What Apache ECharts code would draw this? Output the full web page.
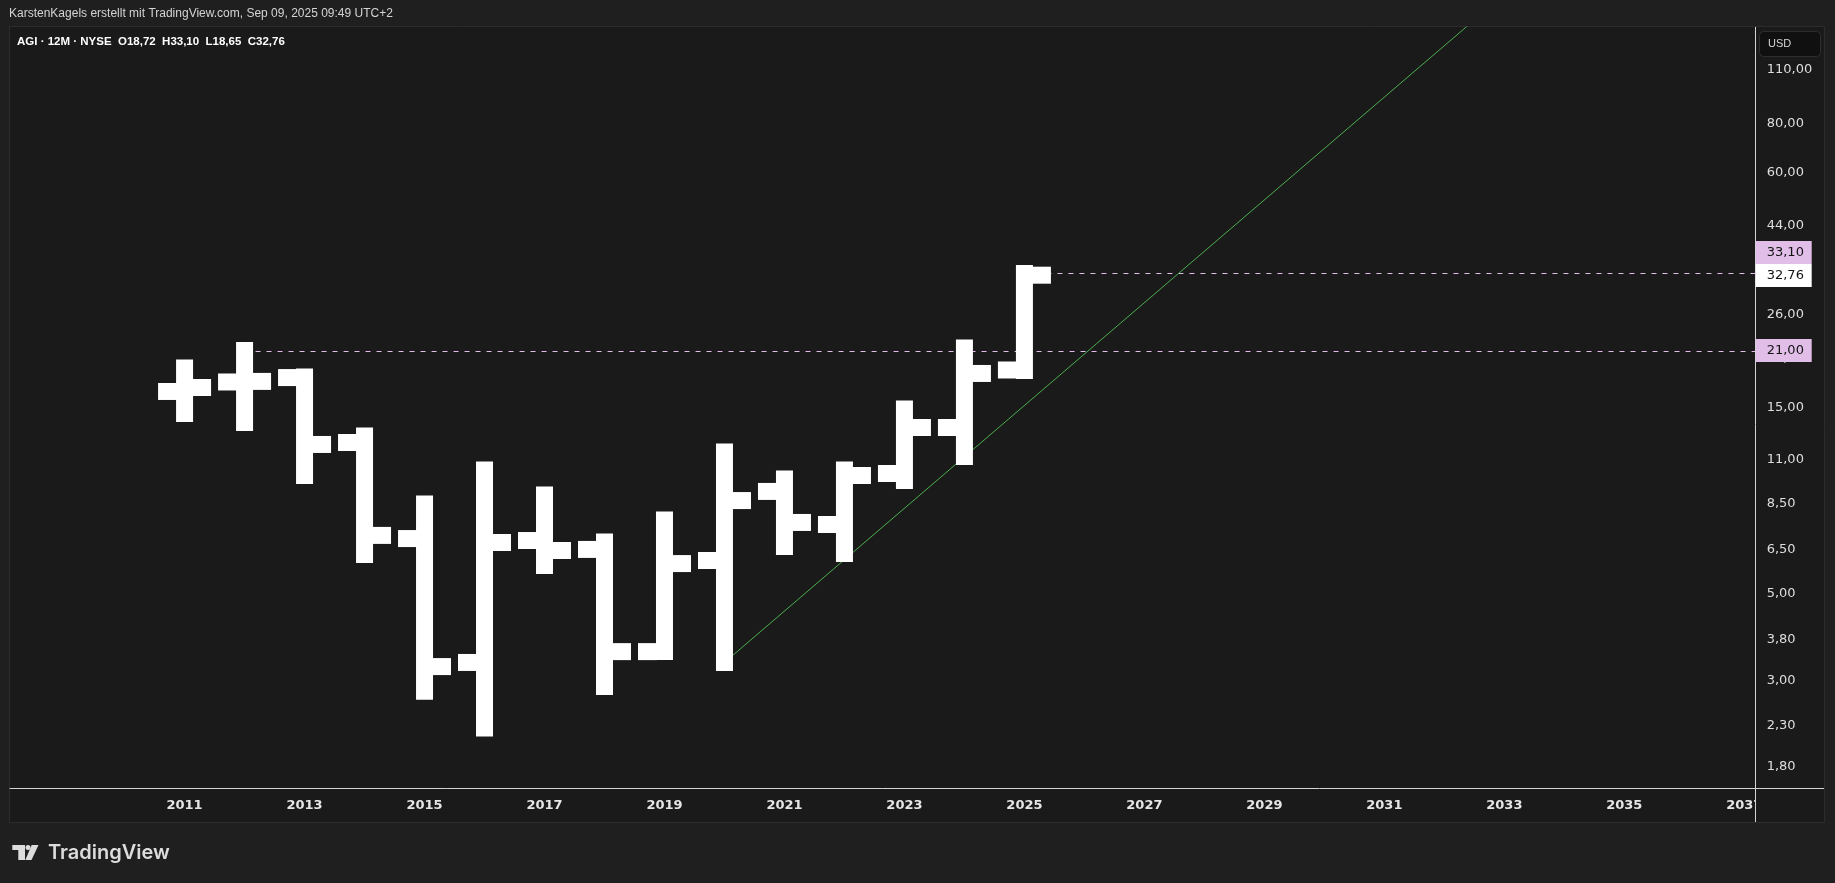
<!DOCTYPE html>
<html>
<head>
<meta charset="utf-8">
<title>AGI 12M</title>
<script src="https://cdn.jsdelivr.net/npm/echarts@6/dist/echarts.min.js"></script>
<style>
  html, body { margin: 0; padding: 0; background: #1f1f1f; }
  #chart { width: 1835px; height: 883px; }
</style>
</head>
<body>
<div id="chart"></div>
<script>
var years  = [2011, 2012, 2013, 2014, 2015, 2016, 2017, 2018, 2019, 2020, 2021, 2022, 2023, 2024, 2025];
var opens  = [16.49, 17.44, 17.90, 12.20, 6.92, 3.33, 6.84, 6.49, 3.55, 6.08, 9.14, 7.52, 10.16, 13.33, 18.72];
var highs  = [18.94, 21.00, 17.96, 12.68, 8.49, 10.37, 8.95, 6.78, 7.72, 11.54, 9.84, 10.37, 14.87, 21.32, 33.10];
var lows   = [14.48, 13.73, 10.04, 6.30, 2.81, 2.26, 5.90, 2.89, 3.55, 3.33, 6.60, 6.34, 9.75, 11.23, 18.65];
var closes = [16.88, 17.50, 12.06, 7.05, 3.25, 6.76, 6.45, 3.55, 5.97, 8.66, 7.61, 10.04, 13.33, 18.34, 32.76];

// Achsen
var priceTicks = [110, 80, 60, 44, 26, 20, 15, 11, 8.5, 6.5, 5, 3.8, 3, 2.3, 1.8];
var yearTicks  = [2011, 2013, 2015, 2017, 2019, 2021, 2023, 2025, 2027, 2029, 2031, 2033, 2035, 2037];
var priceRange = [1.587, 141.8];
var yearRange  = [2008.09, 2037.19];

// Zeichnungen: horizontale Strahlen + Trendlinie
var rayYears  = [2012, 2025];
var rayPrices = [21.00, 33.10];
var trendYears  = [2020, 2033];
var trendPrices = [3.33, 172];

var L = function (p) { return Math.log10(p); };
var fmt = function (p) { return p.toFixed(2).replace('.', ','); };
var last = years.length - 1;

var barData = years.map(function (y, i) {
  return [y, L(opens[i]), L(closes[i]), L(lows[i]), L(highs[i])];
});

function renderBar(params, api) {
  var x = api.value(0);
  var pO = api.coord([x, api.value(1)]);
  var pC = api.coord([x, api.value(2)]);
  var pL = api.coord([x, api.value(3)]);
  var pH = api.coord([x, api.value(4)]);
  var w = 17, h = w / 2, t = 18;
  var st = { fill: '#ffffff' };
  return {
    type: 'group',
    children: [
      { type: 'rect', shape: { x: pH[0] - h, y: pH[1] - h, width: w, height: pL[1] - pH[1] + w }, style: st },
      { type: 'rect', shape: { x: pO[0] - h - t, y: pO[1] - h, width: t + 1, height: w }, style: st },
      { type: 'rect', shape: { x: pC[0] + h - 1, y: pC[1] - h, width: t + 1, height: w }, style: st }
    ]
  };
}

// Strahl vom Balken bis zum rechten Rand, auf ganze Pixel gelegt
function renderRay(params, api) {
  var p = api.coord([api.value(0), api.value(1)]);
  var y = Math.round(p[1]) + 0.5;
  var xEnd = params.coordSys.x + params.coordSys.width;
  return {
    type: 'line',
    shape: { x1: p[0], y1: y, x2: xEnd, y2: y },
    style: { stroke: '#e1bee7', lineWidth: 1, lineDash: [5, 6] }
  };
}

// Preisschilder rechts (Strahlen rosa, letzter Kurs weiss)
var labelItems = rayPrices.map(function (p) { return { price: p, last: false }; })
  .concat([{ price: closes[last], last: true }]);
var boxH = 23;

function renderLabel(params, api) {
  var it = labelItems[params.dataIndex];
  var lastY = api.coord([yearRange[0], L(closes[last])])[1];
  var y = api.coord([yearRange[0], L(it.price)])[1];
  if (!it.last && Math.abs(y - lastY) < boxH) {
    y = it.price > closes[last] ? lastY - boxH : lastY + boxH;
  }
  var x = params.coordSys.x + params.coordSys.width;
  return {
    type: 'group',
    children: [
      { type: 'rect', shape: { x: x, y: Math.round(y - boxH / 2), width: 56, height: boxH },
        style: { fill: it.last ? '#ffffff' : '#e1bee7' } },
      { type: 'text', style: { text: fmt(it.price), x: x + 11, y: y, verticalAlign: 'middle', align: 'left',
        fill: '#131313', font: '13px "DejaVu Sans"' } }
    ]
  };
}

var chart = echarts.init(document.getElementById('chart'));

chart.setOption({
  animation: false,
  backgroundColor: '#1f1f1f',
  title: [
    {
      text: 'KarstenKagels erstellt mit TradingView.com, Sep 09, 2025 09:49 UTC+2',
      left: 9, top: 8, padding: 0,
      textStyle: { color: '#d4d4d4', fontSize: 12, fontWeight: 'normal', fontFamily: 'Liberation Sans' }
    },
    {
      text: 'AGI · 12M · NYSE  O' + fmt(opens[last]) + '  H' + fmt(highs[last]) +
            '  L' + fmt(lows[last]) + '  C' + fmt(closes[last]),
      left: 17, top: 36, padding: 0,
      textStyle: { color: '#ffffff', fontSize: 11.5, fontWeight: 'bold', fontFamily: 'Liberation Sans' }
    }
  ],
  grid: { left: 10, right: 79.3, top: 27, bottom: 95, containLabel: false, outerBoundsMode: 'none' },
  xAxis: {
    type: 'value', min: yearRange[0], max: yearRange[1], z: 0,
    axisLine: { show: true, lineStyle: { color: '#d4d4d4', width: 1 } },
    axisTick: { show: false },
    splitLine: { show: false },
    axisLabel: {
      customValues: yearTicks, margin: 11,
      formatter: function (v) { return String(Math.round(v)); },
      color: '#e6e6e6', fontFamily: 'DejaVu Sans', fontWeight: 'bold', fontSize: 13
    }
  },
  yAxis: {
    type: 'value', position: 'right', min: L(priceRange[0]), max: L(priceRange[1]), z: 6,
    axisLine: { show: false },
    axisTick: { show: false },
    splitLine: { show: false },
    axisLabel: {
      customValues: priceTicks.map(L), margin: 11, align: 'left',
      formatter: function (v) { return fmt(Math.pow(10, v)); },
      color: '#dedede', fontFamily: 'DejaVu Sans', fontSize: 13
    }
  },
  series: [
    {
      type: 'custom', z: 2, renderItem: renderRay, silent: true,
      data: rayYears.map(function (y, i) { return [y, L(rayPrices[i])]; }),
      encode: { x: 0, y: 1 }
    },
    {
      type: 'line', z: 2, symbol: 'none', silent: true,
      data: trendYears.map(function (y, i) { return [y, L(trendPrices[i])]; }),
      lineStyle: { color: '#4caf50', width: 1 }
    },
    {
      type: 'custom', z: 3, renderItem: renderBar, data: barData,
      encode: { x: 0, y: [1, 2, 3, 4] }
    },
    {
      type: 'custom', z: 7, clip: false, renderItem: renderLabel,
      data: labelItems.map(function (it) { return [yearRange[1], L(it.price)]; }),
      encode: { x: 0, y: 1 }
    }
  ],
  graphic: [
    { type: 'rect', z: -10, silent: true, shape: { x: 9.5, y: 26.5, width: 1815, height: 796 },
      style: { fill: '#1a1a1a', stroke: '#2c2c2c', lineWidth: 1 } },
    { type: 'rect', z: 5, silent: true, shape: { x: 1756, y: 27, width: 68, height: 795 },
      style: { fill: '#1a1a1a' } },
    { type: 'line', z: 6, silent: true, shape: { x1: 1755.5, y1: 27, x2: 1755.5, y2: 822 },
      style: { stroke: '#d4d4d4', lineWidth: 1 } },
    { type: 'line', z: 6, silent: true, shape: { x1: 1755.5, y1: 788.5, x2: 1824, y2: 788.5 },
      style: { stroke: '#d4d4d4', lineWidth: 1 } },
    { type: 'rect', z: 8, silent: true, shape: { x: 1759.5, y: 31.5, width: 61, height: 25, r: 4 },
      style: { fill: '#101010', stroke: '#2e2e2e', lineWidth: 1 } },
    { type: 'text', z: 8, silent: true,
      style: { text: 'USD', x: 1768, y: 44, verticalAlign: 'middle', fill: '#d6d6d6', font: '11px "Liberation Sans"' } },
    // TradingView-Logo
    { type: 'group', z: 8, silent: true, children: [
      { type: 'polygon', shape: { points: [[12.3, 845], [25, 845], [25, 860], [18.3, 860], [18.3, 850], [12.3, 850]] },
        style: { fill: '#dcdcdc' } },
      { type: 'circle', shape: { cx: 28, cy: 847.5, r: 2.5 }, style: { fill: '#dcdcdc' } },
      { type: 'polygon', shape: { points: [[31.7, 845], [38.5, 845], [31.5, 860], [25.3, 860]] },
        style: { fill: '#dcdcdc' } },
      { type: 'text', style: { text: 'TradingView', x: 48, y: 853, verticalAlign: 'middle',
        fill: '#dcdcdc', font: '600 20px Inter' } }
    ] }
  ]
});
</script>
</body>
</html>
